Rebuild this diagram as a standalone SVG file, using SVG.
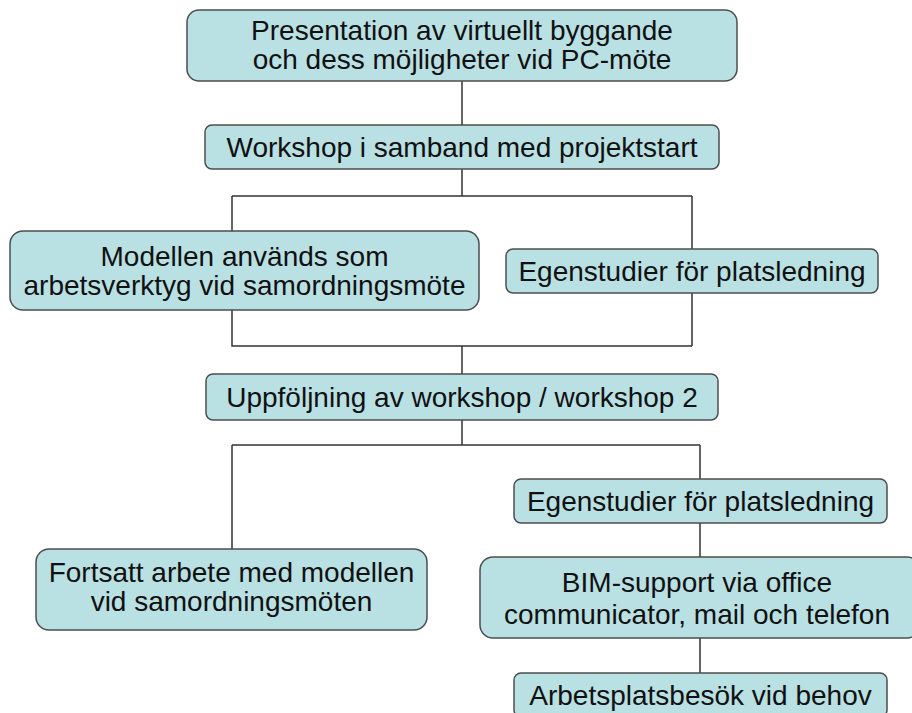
<svg xmlns="http://www.w3.org/2000/svg" width="912" height="713" viewBox="0 0 912 713">
  <style>
    .box { fill: #b9e0e3; stroke: #4d4d4d; stroke-width: 1.5; }
    .lbl { font-family: "Liberation Sans", Arial, sans-serif; font-size: 28px; fill: #111; text-anchor: middle; }
    .wire { fill: none; stroke: #333; stroke-width: 1.5; }
  </style>
  <rect width="912" height="713" fill="#ffffff"/>

  <g id="connectors">
    <path class="wire" d="M462 81 V125"/>
    <path class="wire" d="M462 169 V196 M232 196 H692 M232 196 V231 M692 196 V249"/>
    <path class="wire" d="M232 310 V346 H692 M692 293 V346 M462 346 V374"/>
    <path class="wire" d="M462 420 V445 M232 445 H700 M232 445 V549 M700 445 V479"/>
    <path class="wire" d="M700 523 V557 M700 638 V673"/>
  </g>

  <g id="presentation">
    <rect class="box" x="187" y="10" width="550" height="71" rx="12"/>
    <text class="lbl" x="462" y="40">Presentation av virtuellt byggande</text>
    <text class="lbl" x="462" y="69">och dess möjligheter vid PC-möte</text>
  </g>

  <g id="workshop">
    <rect class="box" x="205" y="125" width="514" height="44" rx="7"/>
    <text class="lbl" x="462" y="157">Workshop i samband med projektstart</text>
  </g>

  <g id="modellen">
    <rect class="box" x="10" y="231" width="469" height="79" rx="13"/>
    <text class="lbl" x="244.5" y="265.5">Modellen används som</text>
    <text class="lbl" x="244.5" y="295">arbetsverktyg vid samordningsmöte</text>
  </g>

  <g id="egenstudier-1">
    <rect class="box" x="506" y="249" width="372" height="44" rx="7"/>
    <text class="lbl" x="692" y="281">Egenstudier för platsledning</text>
  </g>

  <g id="uppfoljning">
    <rect class="box" x="206" y="374" width="512" height="46" rx="7"/>
    <text class="lbl" x="462" y="407">Uppföljning av workshop / workshop 2</text>
  </g>

  <g id="fortsatt">
    <rect class="box" x="36" y="549" width="391" height="81" rx="13"/>
    <text class="lbl" x="231.5" y="582">Fortsatt arbete med modellen</text>
    <text class="lbl" x="231.5" y="611">vid samordningsmöten</text>
  </g>

  <g id="egenstudier-2">
    <rect class="box" x="514" y="479" width="373" height="44" rx="7"/>
    <text class="lbl" x="700.5" y="511">Egenstudier för platsledning</text>
  </g>

  <g id="bim-support">
    <rect class="box" x="480" y="557" width="440" height="81" rx="13"/>
    <text class="lbl" x="697" y="592">BIM-support via office</text>
    <text class="lbl" x="697" y="624">communicator, mail och telefon</text>
  </g>

  <g id="arbetsplatsbesok">
    <rect class="box" x="514" y="673" width="373" height="44" rx="7"/>
    <text class="lbl" x="700.5" y="705">Arbetsplatsbesök vid behov</text>
  </g>
</svg>
